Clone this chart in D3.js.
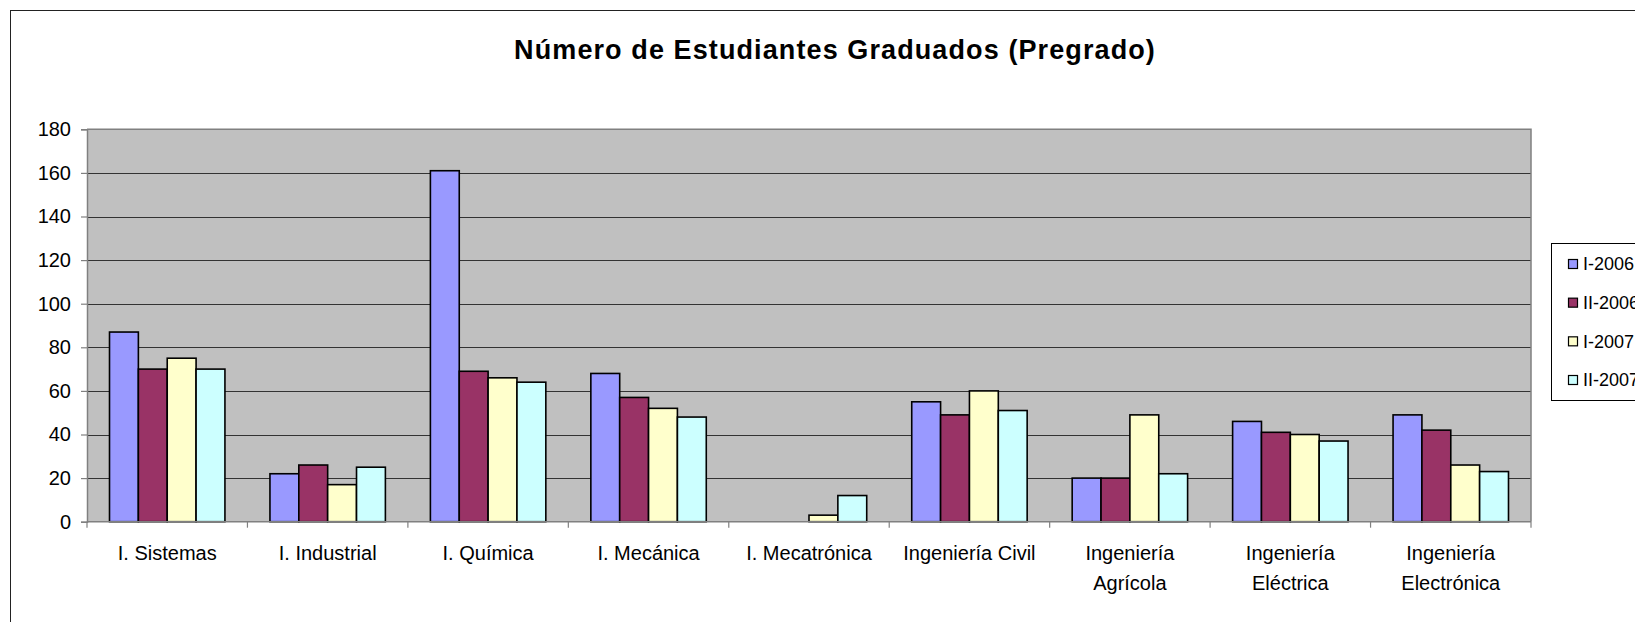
<!DOCTYPE html>
<html>
<head>
<meta charset="utf-8">
<script src="https://cdn.jsdelivr.net/npm/d3@7/dist/d3.min.js"></script>
<style>
  html, body { margin: 0; padding: 0; background: #fff; }
  svg { display: block; font-family: "Liberation Sans", Arial, sans-serif; }
</style>
</head>
<body>
<svg id="chart" width="1635" height="622"></svg>
<script>
// ---- data ----
const categories = ["I. Sistemas", "I. Industrial", "I. Química", "I. Mecánica", "I. Mecatrónica",
  "Ingeniería Civil", "Ingeniería Agrícola", "Ingeniería Eléctrica", "Ingeniería Electrónica"];
const seriesNames = ["I-2006", "II-2006", "I-2007", "II-2007"];
const valuesI2006  = [87, 22, 161, 68, 0, 55, 20, 46, 49];
const valuesII2006 = [70, 26, 69, 57, 0, 49, 20, 41, 42];
const valuesI2007  = [75, 17, 66, 52, 3, 60, 49, 40, 26];
const valuesII2007 = [70, 25, 64, 48, 12, 51, 22, 37, 23];
const yTickValues = [0, 20, 40, 60, 80, 100, 120, 140, 160, 180];
const titleText = "Número de Estudiantes Graduados (Pregrado)";

const seriesValues = [valuesI2006, valuesII2006, valuesI2007, valuesII2007];
const colors = ["#9999FF", "#993366", "#FFFFCC", "#CCFFFF"];

// ---- layout ----
const plot = { left: 87, right: 1531, top: 129.3, bottom: 521.7 };
const svg = d3.select("#chart");

// chart area border (extends beyond the visible window on right/bottom)
svg.append("rect")
  .attr("x", 10.5).attr("y", 10.5)
  .attr("width", 1720).attr("height", 700)
  .attr("fill", "#fff").attr("stroke", "#222").attr("stroke-width", 1);

// title
svg.append("text")
  .attr("x", 835).attr("y", 59)
  .attr("text-anchor", "middle")
  .attr("font-size", 27)
  .attr("font-weight", "bold")
  .attr("letter-spacing", 1.1)
  .attr("fill", "#000")
  .text(titleText);

// scales
const x = d3.scaleBand().domain(categories).range([plot.left, plot.right]).padding(0);
const xInner = d3.scaleBand().domain(seriesNames).range([0, x.bandwidth()]).paddingInner(0).paddingOuter(0.78);
const y = d3.scaleLinear().domain([0, 180]).range([plot.bottom, plot.top]);

// plot area
svg.append("rect")
  .attr("x", plot.left).attr("y", plot.top)
  .attr("width", plot.right - plot.left).attr("height", plot.bottom - plot.top)
  .attr("fill", "#C0C0C0");

// gridlines
svg.append("g").selectAll("line")
  .data(yTickValues.filter(v => v > 0 && v < 180))
  .join("line")
  .attr("x1", plot.left).attr("x2", plot.right)
  .attr("y1", d => Math.round(y(d)) + 0.5).attr("y2", d => Math.round(y(d)) + 0.5)
  .attr("stroke", "#333").attr("stroke-width", 1.2);

// plot area border (top/right)
svg.append("path")
  .attr("d", `M${plot.left},${plot.top}H${plot.right}V${plot.bottom}`)
  .attr("fill", "none").attr("stroke", "#808080").attr("stroke-width", 1.5);

// bars
const data = [];
categories.forEach((c, i) => {
  seriesNames.forEach((s, j) => {
    data.push({ cat: c, series: s, value: seriesValues[j][i], color: colors[j] });
  });
});
svg.append("g").selectAll("rect")
  .data(data.filter(d => d.value > 0))
  .join("rect")
  .attr("x", d => x(d.cat) + xInner(d.series))
  .attr("y", d => y(d.value))
  .attr("width", xInner.bandwidth())
  .attr("height", d => y(0) - y(d.value))
  .attr("fill", d => d.color)
  .attr("stroke", "#000")
  .attr("stroke-width", 1.6);

// y axis
const yAxis = d3.axisLeft(y).tickValues(yTickValues).tickSize(6).tickPadding(10);
const gy = svg.append("g").attr("transform", `translate(${plot.left},0)`).call(yAxis);
gy.select(".domain").attr("stroke", "#808080").attr("stroke-width", 1.5);
gy.selectAll(".tick line").attr("stroke", "#808080").attr("stroke-width", 1.2);
gy.selectAll(".tick text").attr("font-size", 20).attr("fill", "#000")
  .attr("font-family", "'Liberation Sans', Arial, sans-serif");

// x axis baseline + ticks at category boundaries
const boundaries = categories.map(c => x(c)).concat([plot.right]);
svg.append("line")
  .attr("x1", plot.left).attr("x2", plot.right)
  .attr("y1", plot.bottom).attr("y2", plot.bottom)
  .attr("stroke", "#808080").attr("stroke-width", 1.5);
svg.append("g").selectAll("line")
  .data(boundaries)
  .join("line")
  .attr("x1", d => d).attr("x2", d => d)
  .attr("y1", plot.bottom).attr("y2", plot.bottom + 6)
  .attr("stroke", "#808080").attr("stroke-width", 1.2);

// x labels with wrapping
const xl = svg.append("g");
categories.forEach(c => {
  const t = xl.append("text")
    .attr("x", x(c) + x.bandwidth() / 2)
    .attr("y", 560)
    .attr("text-anchor", "middle")
    .attr("font-size", 20)
    .attr("fill", "#000")
    .text(c);
  if (t.node().getComputedTextLength() > x.bandwidth() - 6) {
    const words = c.split(" ");
    t.text(null);
    t.append("tspan").attr("x", x(c) + x.bandwidth() / 2).text(words[0]);
    t.append("tspan").attr("x", x(c) + x.bandwidth() / 2).attr("dy", 30).text(words.slice(1).join(" "));
  }
});

// legend
const lg = svg.append("g");
lg.append("rect")
  .attr("x", 1551.5).attr("y", 243.5)
  .attr("width", 200).attr("height", 157)
  .attr("fill", "#fff").attr("stroke", "#000").attr("stroke-width", 1);
const legendY = d3.scalePoint().domain(seriesNames).range([264, 380]);
seriesNames.forEach((s, j) => {
  lg.append("rect")
    .attr("x", 1568.5).attr("y", legendY(s) - 4.5)
    .attr("width", 9).attr("height", 9)
    .attr("fill", colors[j]).attr("stroke", "#000").attr("stroke-width", 1.2);
  lg.append("text")
    .attr("x", 1583).attr("y", legendY(s))
    .attr("dy", "0.35em")
    .attr("font-size", 18)
    .attr("fill", "#000")
    .text(s);
});
</script>
</body>
</html>
